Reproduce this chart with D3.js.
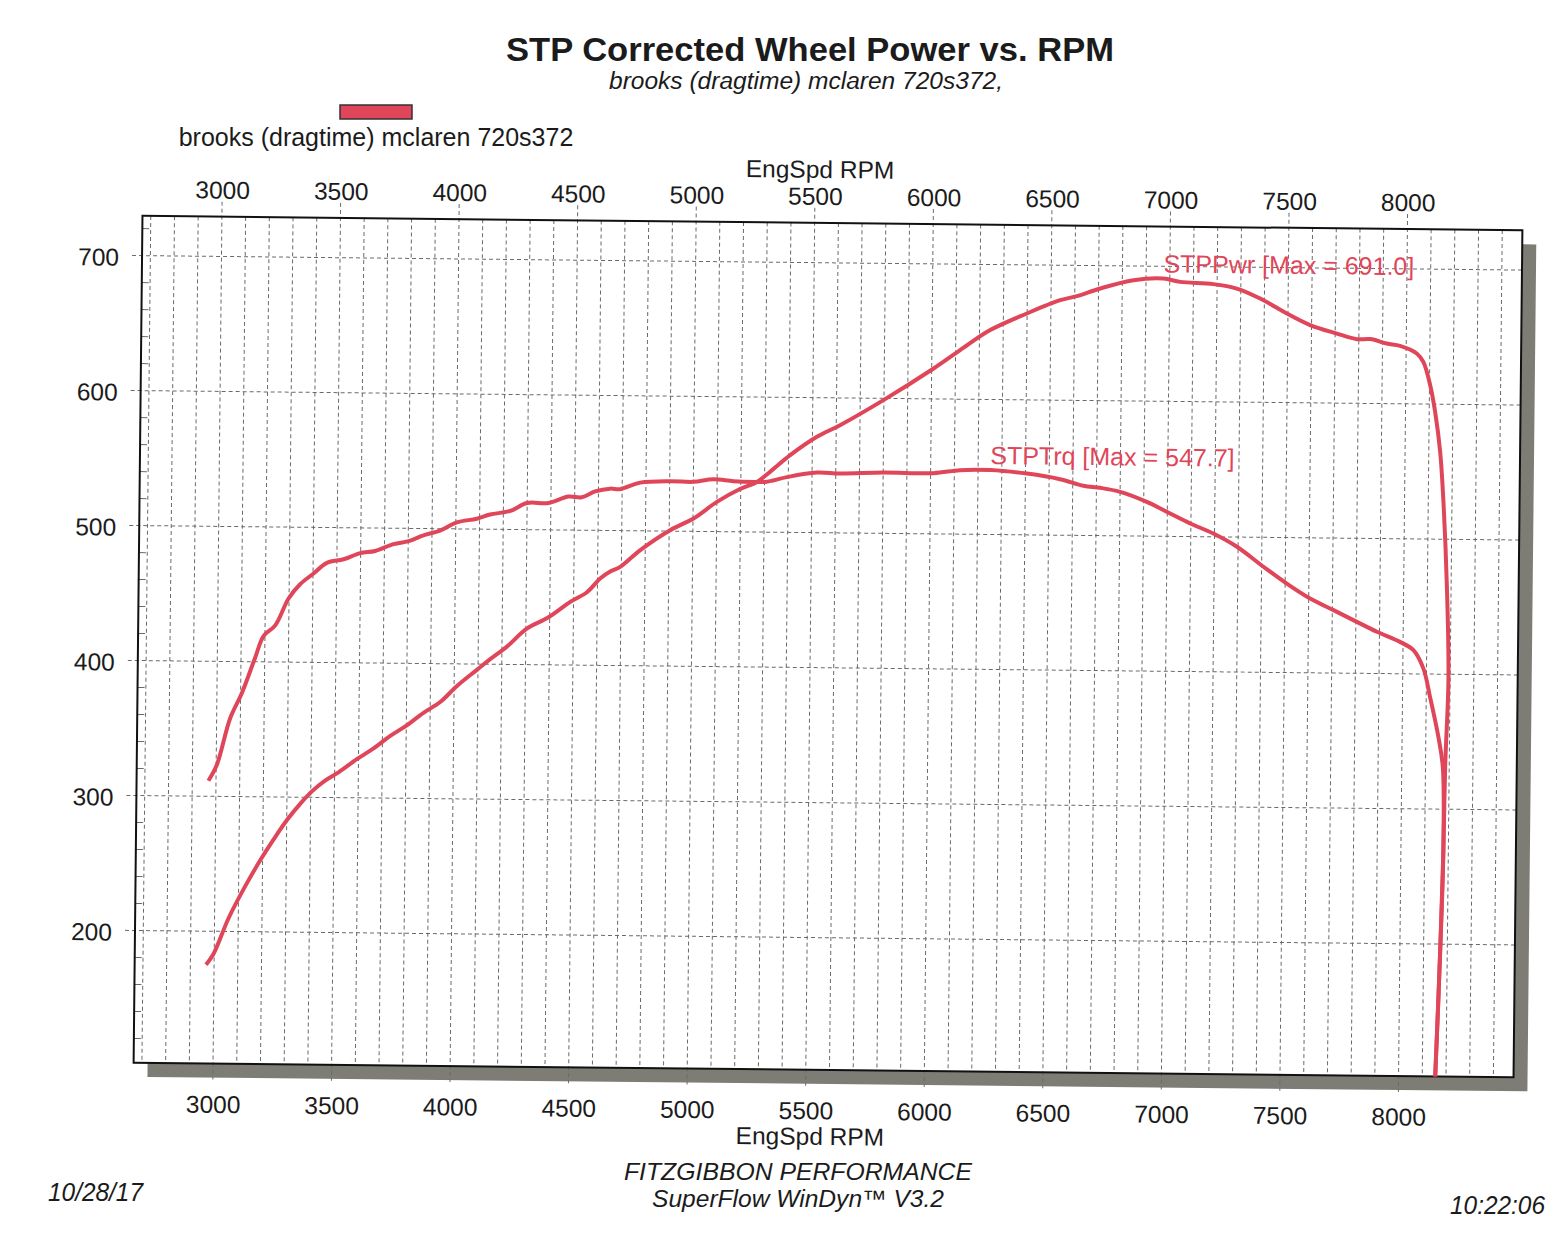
<!DOCTYPE html>
<html>
<head>
<meta charset="utf-8">
<script src="https://cdn.jsdelivr.net/npm/d3@7"></script>
<style>
  body { margin: 0; background: #fff; }
  svg { display: block; }
  text { fill: #1b1b1b; }
</style>
</head>
<body>
<div id="chart"></div>
<script>
// Dyno sheet values
const rpmTicks = [3000, 3500, 4000, 4500, 5000, 5500, 6000, 6500, 7000, 7500, 8000];
const valueTicks = [200, 300, 400, 500, 600, 700];

const torqueRpm = [2968, 3003, 3057, 3105, 3160, 3194, 3243, 3298, 3346, 3402, 3458, 3528, 3598, 3661,
  3738, 3801, 3864, 3934, 4004, 4088, 4144, 4229, 4299, 4390, 4474, 4530, 4586, 4649, 4691, 4776,
  4902, 5000, 5084, 5169, 5253, 5310, 5394, 5520, 5619, 5801, 6012, 6124, 6251, 6406, 6546, 6645,
  6716, 6800, 6913, 7012, 7097, 7195, 7295, 7408, 7507, 7606, 7705, 7804, 7889, 7987, 8044, 8087,
  8116, 8153, 8173, 8179, 8170, 8154, 8148];
const torqueVal = [311.5, 323.4, 358.0, 376.6, 403.2, 419.1, 427.1, 447.1, 457.8, 465.8, 473.8, 476.6, 481.3, 483.0,
  488.2, 490.5, 495.0, 498.6, 504.8, 507.7, 510.9, 513.7, 519.7, 519.9, 524.8, 524.4, 528.8, 531.0, 530.7, 535.7,
  537.0, 536.7, 538.8, 537.5, 537.1, 537.3, 540.9, 544.5, 544.0, 545.1, 545.0, 547.4, 547.7, 545.4, 541.5, 536.8,
  535.4, 532.6, 525.4, 516.9, 509.7, 502.4, 492.8, 478.2, 465.9, 455.0, 446.6, 438.1, 430.9, 423.6, 417.6, 404.0,
  383.1, 353.6, 331.3, 268.4, 194.3, 98.0, 70];

const powerRpm = [2966, 2997, 3059, 3128, 3197, 3245, 3301, 3356, 3405, 3460, 3509, 3593, 3663, 3733, 3802,
  3872, 3942, 4012, 4095, 4151, 4221, 4304, 4395, 4486, 4556, 4611, 4653, 4695, 4779, 4904, 5002, 5100,
  5197, 5268, 5323, 5407, 5519, 5616, 5798, 6008, 6119, 6245, 6399, 6539, 6609, 6707, 6847, 6973, 7044,
  7184, 7283, 7382, 7495, 7594, 7707, 7792, 7848, 7918, 7974, 8045, 8073, 8103, 8125, 8148, 8164, 8182,
  8193, 8183, 8179, 8170, 8154, 8148];
const powerVal = [175.2, 183.2, 209.8, 233.7, 255.0, 268.4, 283.0, 295.1, 304.4, 312.4, 317.9, 328.6, 336.7, 346.1, 354.1,
  363.5, 371.6, 383.6, 395.7, 403.8, 413.2, 426.6, 435.2, 446.8, 454.1, 464.3, 469.6, 473.1, 485.7, 500.7, 509.5, 522.0,
  531.7, 537.1, 544.7, 557.2, 571.0, 579.8, 598.7, 622.5, 636.3, 651.4, 664.0, 674.1, 677.2, 683.1, 689.5, 691.0, 688.6,
  687.2, 684.1, 676.9, 666.0, 657.6, 651.5, 647.5, 647.7, 644.5, 642.9, 637.4, 631.2, 614.0, 594.3, 564.7, 527.7, 466.0,
  398.1, 331.4, 268.4, 194.3, 98.0, 70];

const runName = "brooks (dragtime) mclaren 720s372";
const RED = "#e0465a";
const FONT = "'Liberation Sans', Arial, sans-serif";

const W = 1564, H = 1240;
const plot = { left: 138, right: 1518, top: 223, bottom: 1070 };

const svg = d3.select("#chart").append("svg")
  .attr("width", W).attr("height", H);

// the plot is scanned slightly askew
const page = svg.append("g").attr("transform", "rotate(0.6, 828, 647)");

const x = d3.scaleLinear().domain([2665, 8485]).range([plot.left, plot.right]);
const y = d3.scaleLinear().domain([102, 729.5]).range([plot.bottom, plot.top]);

// drop shadow + frame
page.append("rect")
  .attr("x", plot.left + 14).attr("y", plot.top + 14)
  .attr("width", plot.right - plot.left).attr("height", plot.bottom - plot.top)
  .attr("fill", "#7d7c75");
page.append("rect")
  .attr("x", plot.left).attr("y", plot.top)
  .attr("width", plot.right - plot.left).attr("height", plot.bottom - plot.top)
  .attr("fill", "#fff");

// grid
const grid = page.append("g").attr("stroke", "#6a6a6a").attr("stroke-width", 1).attr("fill", "none");
grid.selectAll(".vg")
  .data(d3.range(2700, 8500, 100))
  .join("line")
  .attr("x1", d => x(d)).attr("x2", d => x(d))
  .attr("y1", d => d % 500 === 0 ? plot.top - 15 : plot.top)
  .attr("y2", d => d % 500 === 0 ? plot.bottom + 16 : plot.bottom)
  .attr("stroke-dasharray", "4,3");
grid.selectAll(".hg")
  .data(valueTicks)
  .join("line")
  .attr("x1", plot.left - 10).attr("x2", plot.right)
  .attr("y1", d => y(d)).attr("y2", d => y(d))
  .attr("stroke-dasharray", "4,3");
grid.selectAll(".mt")
  .data(d3.range(120, 729, 20).filter(d => d % 100 !== 0))
  .join("line")
  .attr("x1", plot.left).attr("x2", plot.left + 7)
  .attr("y1", d => y(d)).attr("y2", d => y(d));

page.append("rect")
  .attr("x", plot.left).attr("y", plot.top)
  .attr("width", plot.right - plot.left).attr("height", plot.bottom - plot.top)
  .attr("fill", "none").attr("stroke", "#111").attr("stroke-width", 2);

// curves
page.append("clipPath").attr("id", "clip")
  .append("rect")
  .attr("x", plot.left).attr("y", plot.top)
  .attr("width", plot.right - plot.left).attr("height", plot.bottom - plot.top);

const line = d3.line()
  .x(d => x(d[0])).y(d => y(d[1]))
  .curve(d3.curveCatmullRom.alpha(0.5));

const curves = page.append("g").attr("clip-path", "url(#clip)");
[[torqueRpm, torqueVal], [powerRpm, powerVal]].forEach(([rpm, val]) => {
  curves.append("path")
    .datum(d3.zip(rpm, val))
    .attr("d", line)
    .attr("fill", "none")
    .attr("stroke", RED)
    .attr("stroke-width", 4)
    .attr("stroke-linejoin", "round");
});

// peak labels
function peakLabel(name, rpm, val) {
  const i = d3.maxIndex(val);
  page.append("text")
    .attr("x", x(rpm[i])).attr("y", y(val[i]) - 6)
    .attr("font-family", FONT).attr("font-size", 25)
    .style("fill", RED)
    .text(`${name} [Max = ${val[i].toFixed(1)}]`);
}
peakLabel("STPPwr", powerRpm, powerVal);
peakLabel("STPTrq", torqueRpm, torqueVal);

// axes
function styleAxis(g) {
  g.attr("font-family", FONT).attr("font-size", 24.5);
  g.select(".domain").remove();
  g.selectAll("text").style("fill", "#1b1b1b");
}
page.append("g")
  .attr("transform", `translate(0,${plot.bottom})`)
  .call(d3.axisBottom(x).tickValues(rpmTicks).tickFormat(d3.format("d")).tickSize(0).tickPadding(32))
  .call(styleAxis);
page.append("g")
  .attr("transform", `translate(0,${plot.top})`)
  .call(d3.axisTop(x).tickValues(rpmTicks).tickFormat(d3.format("d")).tickSize(0).tickPadding(18))
  .call(styleAxis);
page.append("g")
  .attr("transform", `translate(${plot.left},0)`)
  .call(d3.axisLeft(y).tickValues(valueTicks).tickFormat(d3.format("d")).tickSize(0).tickPadding(23))
  .call(styleAxis)
  .selectAll("text").attr("dy", "0.4em");

// header / footer texts (placed straight, at their scanned positions)
function label(txt, px, py, opts = {}) {
  const t = svg.append("text")
    .attr("x", px).attr("y", py)
    .attr("text-anchor", opts.anchor || "middle")
    .attr("font-family", FONT)
    .attr("font-size", opts.size || 24.5)
    .attr("font-weight", opts.weight || "normal")
    .attr("font-style", opts.style || "normal")
    .text(txt);
  // footer lines are set in a condensed face on the sheet
  if (opts.len) t.attr("textLength", opts.len).attr("lengthAdjust", "spacingAndGlyphs");
  return t;
}
label("STP Corrected Wheel Power vs. RPM", 810, 61, { size: 33, weight: "bold", len: 608 });
label(runName + ",", 806, 89, { size: 23, style: "italic", len: 394 });

svg.append("rect")
  .attr("x", 340).attr("y", 105).attr("width", 72).attr("height", 14)
  .attr("fill", RED).attr("stroke", "#333").attr("stroke-width", 1.5);
label(runName, 376, 146, { size: 25 });

page.append("text")
  .attr("x", 815).attr("y", 178).attr("text-anchor", "middle")
  .attr("font-family", FONT).attr("font-size", 24.5)
  .text("EngSpd RPM");
page.append("text")
  .attr("x", 815).attr("y", 1145).attr("text-anchor", "middle")
  .attr("font-family", FONT).attr("font-size", 24.5)
  .text("EngSpd RPM");

label("FITZGIBBON PERFORMANCE", 798, 1180, { size: 24, style: "italic", len: 348 });
label("SuperFlow WinDyn\u2122 V3.2", 798, 1207, { size: 24, style: "italic", len: 292 });
label("10/28/17", 48, 1201, { size: 26, style: "italic", anchor: "start", len: 95 });
label("10:22:06", 1545, 1214, { size: 26, style: "italic", anchor: "end", len: 95 });
</script>
</body>
</html>
